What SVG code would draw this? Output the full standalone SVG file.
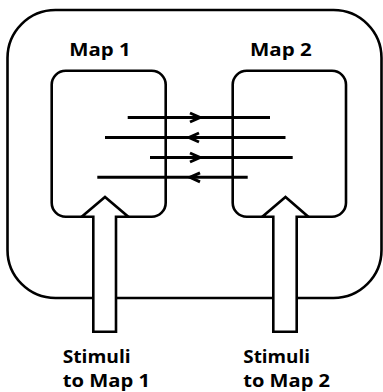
<svg xmlns="http://www.w3.org/2000/svg" width="383" height="392" viewBox="0 0 383 392">
<style>
.box{fill:none;stroke:#000;stroke-width:2.6}
.big{fill:#fff;stroke:#000;stroke-width:2.6;stroke-linejoin:miter}
.lbl{font-family:"Open Sans","Liberation Sans",sans-serif;font-weight:bold;font-size:17px;fill:#000}
.link{fill:none;stroke:#000;stroke-width:3;marker-mid:url(#chev)}
</style>
<defs>
<marker id="chev" markerUnits="userSpaceOnUse" viewBox="-12 -7 14 14" refX="0" refY="0" markerWidth="14" markerHeight="14" orient="auto" overflow="visible">
<path d="M-10,-4.5 L0,0 L-10,4.5" fill="none" stroke="#000" stroke-width="3"/>
</marker>
</defs>
<rect x="0" y="0" width="383" height="392" fill="#fff"/>
<g id="container">
<rect class="box" x="7.5" y="10" width="374" height="288" rx="48" ry="48"/>
</g>
<g id="map1">
<rect class="box" x="51.7" y="70.8" width="114" height="146" rx="14" ry="14"/>
<text class="lbl" x="69.3" y="56" textLength="61.4" lengthAdjust="spacingAndGlyphs">Map 1</text>
</g>
<g id="map2">
<rect class="box" x="232.7" y="70.8" width="113.3" height="146" rx="14" ry="14"/>
<text class="lbl" x="250" y="56" textLength="61.7" lengthAdjust="spacingAndGlyphs">Map 2</text>
</g>
<g id="connectors">
<polyline class="link" points="127.7,117.5 200,117.5 270,117.5"/>
<polyline class="link" points="285.5,137.5 189,137.5 105,137.5"/>
<polyline class="link" points="150,157.5 200,157.5 292.7,157.5"/>
<polyline class="link" points="247.7,177.3 190,177.3 97.3,177.3"/>
</g>
<g id="stimuli1">
<polygon class="big" points="93.3,331.7 93.3,216.8 81.7,216.8 105,197 128.3,216.8 116,216.8 116,331.7"/>
<text class="lbl" x="62.7" y="363.3" textLength="68" lengthAdjust="spacingAndGlyphs">Stimuli</text>
<text class="lbl" x="62.7" y="386.7" textLength="87.3" lengthAdjust="spacingAndGlyphs">to Map 1</text>
</g>
<g id="stimuli2">
<polygon class="big" points="273.3,331.7 273.3,216.8 262.3,216.8 285.5,197 308.3,216.8 296.7,216.8 296.7,331.7"/>
<text class="lbl" x="243.3" y="363.3" textLength="66.7" lengthAdjust="spacingAndGlyphs">Stimuli</text>
<text class="lbl" x="243.3" y="386.7" textLength="86.7" lengthAdjust="spacingAndGlyphs">to Map 2</text>
</g>
</svg>
